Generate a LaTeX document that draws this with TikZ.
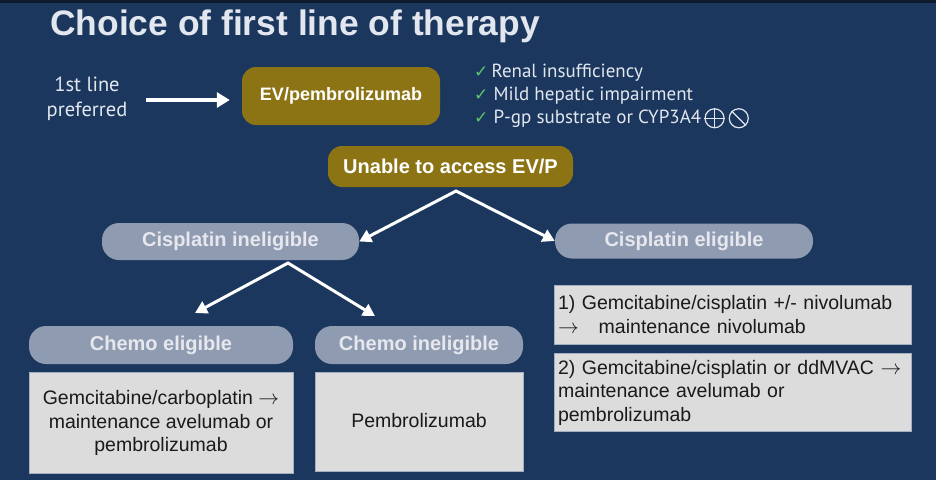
\documentclass[tikz,border=0pt]{standalone}
\usepackage{fontspec}
\setmainfont{Liberation Sans}
\newfontfamily\ptfont{PT Sans}
\newfontfamily\dejavufont{DejaVu Sans}
\usepackage{xcolor}
\usepackage{tikz}
\usetikzlibrary{arrows.meta,positioning}
\definecolor{slidenavy}{HTML}{1B375E}
\definecolor{slidetop}{HTML}{0E1A2C}
\definecolor{evgold}{HTML}{8C7415}
\definecolor{pillgray}{HTML}{8F9BB1}
\definecolor{pilltext}{HTML}{E6E8EE}
\definecolor{boxgray}{HTML}{DCDCDC}
\definecolor{boxedge}{HTML}{A3AEC0}
\definecolor{boxtext}{HTML}{1A1A1A}
\definecolor{checkgreen}{HTML}{5CC46C}
\definecolor{checktext}{HTML}{E2E6EE}
\newcommand{\chk}{{\dejavufont\color{checkgreen}\fontsize{17}{20}\selectfont ✓}}
\newcommand{\thento}{$\rightarrow$}
\newcommand{\boldlabel}{\fontsize{20}{22}\selectfont\bfseries}
\tikzset{
    titletext/.style={
        anchor=base west, inner sep=0pt, text=checktext,
        font=\fontsize{35.4}{40}\selectfont\bfseries},
    prefertext/.style={
        align=center, inner sep=0pt, text=checktext,
        font=\ptfont\fontsize{20.5}{25}\selectfont},
    evbox/.style={
        rounded corners=14pt, fill=evgold, text=white, inner sep=0pt,
        font=\boldlabel},
    pillbox/.style={
        rounded corners=17pt, fill=pillgray, text=pilltext, inner sep=0pt,
        font=\boldlabel},
    regimenbox/.style={
        fill=boxgray, draw=boxedge, line width=0.8pt, text=boxtext,
        inner sep=0pt, align=center, font=\fontsize{19.5}{23.5}\selectfont},
    regimenleft/.style={regimenbox, align=left, inner xsep=4pt},
    checkline/.style={
        anchor=base west, inner sep=0pt, text=checktext,
        font=\ptfont\fontsize{19}{22}\selectfont},
    symring/.style={
        circle, draw=checktext, line width=1.2pt, minimum size=19pt,
        inner sep=0pt},
    symstroke/.style={draw=checktext, line width=1.2pt},
    leadarrow/.style={
        draw=white, line width=4pt, -{Triangle[length=13pt,width=15pt]}},
    forkarrow/.style={
        draw=white, line width=3pt, line join=miter,
        {Triangle[length=12pt,width=13pt]}-{Triangle[length=12pt,width=13pt]}},
}

\begin{document}
\begin{tikzpicture}[x=1pt, y=-1pt]

    % --- Slide background ---------------------------------------------------------
    \useasboundingbox (0,0) rectangle (936,480);
    \fill[slidenavy] (0,0) rectangle (936,480);
    \fill[slidetop] (0,0) rectangle (936,3);

    % --- Title --------------------------------------------------------------------
    \node[titletext] (title) at (50,35) {Choice of first line of therapy};

    % --- Preferred first line -----------------------------------------------------
    \node[prefertext] (pref) at (87,99) {1st line\\preferred};
    \node[evbox, minimum width=198pt, minimum height=58pt, font=\fontsize{18}{20}\selectfont\bfseries]
        (ev) at (341,96) {EV/pembrolizumab};
    \coordinate (leadstart) at (146,100);
    \draw[leadarrow, shorten >=12pt] (leadstart) -- (leadstart -| ev.west);

    % --- Checklist ----------------------------------------------------------------
    \node[checkline] (chk1) at (474,77) {\chk\,Renal insufficiency};
    \node[checkline] (chk2) at (474,100) {\chk\ Mild hepatic impairment};
    \node[checkline] (chk3) at (474,123) {\chk\ P-gp substrate or CYP3A4};
    \node[symring, right=3pt of chk3] (cypplus) {};
    \node[symring, right=4pt of cypplus] (cypno) {};
    \draw[symstroke] (cypplus.north) -- (cypplus.south);
    \draw[symstroke] (cypplus.west) -- (cypplus.east);
    \draw[symstroke] (cypno.north west) -- (cypno.south east);

    % --- No access ----------------------------------------------------------------
    \node[evbox, minimum width=245pt, minimum height=41pt] (unable) at (450.5,166.5)
        {Unable to access EV/P};

    % --- Cisplatin split ----------------------------------------------------------
    \node[pillbox, minimum width=257pt, minimum height=37pt] (cisin) at (230.5,241.5)
        {Cisplatin ineligible};
    \node[pillbox, minimum width=258pt, minimum height=35pt] (cisel) at (684,241)
        {Cisplatin eligible};
    \coordinate (fork1) at (456,191);
    \draw[forkarrow] (cisin.east) -- (fork1) -- (cisel.west);

    % --- Cisplatin ineligible branches --------------------------------------------
    \node[pillbox, minimum width=264pt, minimum height=38pt] (chemoel) at (161,345)
        {Chemo eligible};
    \node[pillbox, minimum width=208pt, minimum height=38pt] (chemoin) at (419,345)
        {Chemo ineligible};
    \coordinate (fork2) at (288,263);
    \coordinate (toel) at (195,313);
    \coordinate (toin) at (375,316);
    \draw[forkarrow] (toel) -- (fork2) -- (toin);

    \node[regimenbox, minimum width=264pt, minimum height=101pt,
        below=8pt of chemoel] (gemcarbo) {%
        Gemcitabine/carboplatin \thento\\
        maintenance avelumab or\\
        pembrolizumab};
    \node[regimenbox, minimum width=208pt, minimum height=99pt,
        below=8pt of chemoin] (pembro) {\raisebox{4pt}{Pembrolizumab}};

    % --- Cisplatin eligible regimens ----------------------------------------------
    \node[regimenleft, text width=349pt, minimum height=59pt] (gemcis1) at (732.5,314.5) {%
        1) Gemcitabine/cisplatin +/- nivolumab\\
        \thento\hspace{20pt}maintenance nivolumab};
    \node[regimenleft, text width=349pt, minimum height=78pt,
        below=9pt of gemcis1] (gemcis2) {%
        2) Gemcitabine/cisplatin or ddMVAC \thento\\
        maintenance avelumab or\\
        pembrolizumab};

\end{tikzpicture}
\end{document}
